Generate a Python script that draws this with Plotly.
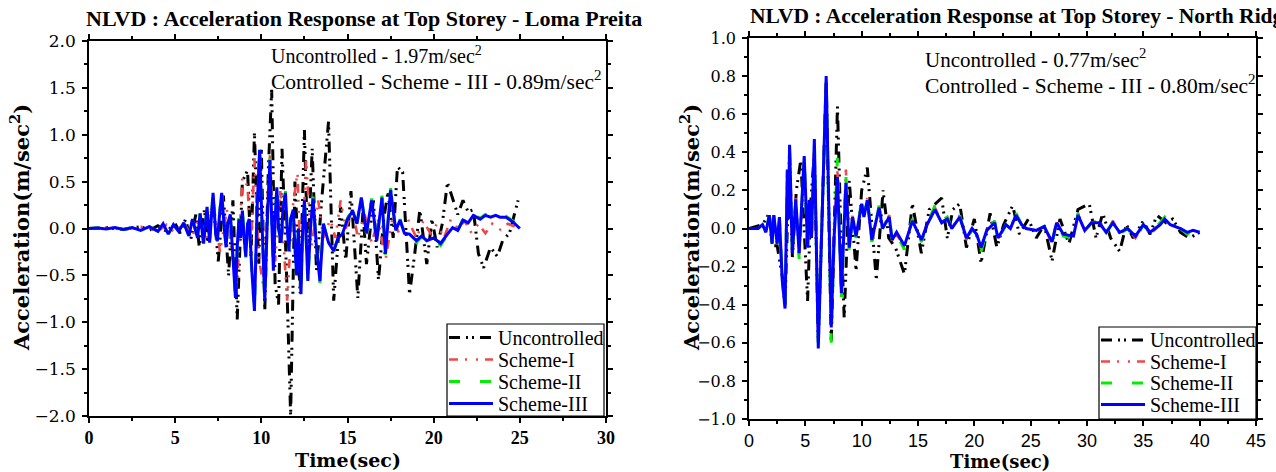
import plotly.graph_objects as go

# ---------------- Loma Preita (left) ----------------
lp_unc_t = [0, 1, 2, 3, 3.5, 4, 4.5, 5, 5.3, 5.6, 5.9, 6.2, 6.4, 6.7, 6.9, 7.2, 7.5, 7.8, 8.1, 8.35,
            8.6, 8.9, 9.2, 9.4, 9.6, 9.85, 10.0, 10.2, 10.4, 10.6, 10.8, 11.0, 11.2, 11.45, 11.7, 11.95, 12.25, 12.5, 12.7, 12.95,
            13.2, 13.5, 13.9, 14.2, 14.6, 14.9, 15.2, 15.6, 15.9, 16.1, 16.5, 16.8, 17.1, 17.35, 17.65, 17.9, 18.2, 18.6, 18.9, 19.2,
            19.6, 19.9, 20.2, 20.5, 20.8, 21.1, 21.4, 21.7, 22.0, 22.3, 22.6, 22.9, 23.3, 23.7, 24.0, 24.4, 24.9]
lp_unc_a = [0, 0.01, -0.01, 0.02, -0.02, 0.03, -0.03, 0.05, -0.05, 0.1, -0.12, 0.15, -0.2, 0.2, -0.15, 0.3, -0.35, 0.35, -0.5, 0.3,
            -0.97, 0.5, 0.62, -0.3, 1.02, -0.4, 0.85, -0.88, 0.6, 1.48, -0.6, -0.81, 0.85, -0.4, -1.99, 0.5, -0.69, 1.05, -0.3, 0.85,
            -0.45, 0.3, 1.14, -0.77, 0.23, -0.34, 0.4, -0.74, 0.2, -0.38, 0.3, -0.55, 0.1, 0.39, -0.1, 0.66, 0.6, -0.7, -0.27, 0.2,
            -0.38, 0.1, -0.2, 0.05, 0.49, 0.33, 0.15, 0.3, 0.18, 0.2, -0.27, -0.42, -0.2, -0.3, -0.13, -0.05, 0.3]

lp_s1_t = [0, 1, 2, 3, 4, 4.5, 5, 5.5, 6.0, 6.4, 6.8, 7.2, 7.6, 8.0, 8.3, 8.6, 8.9, 9.2, 9.4, 9.6,
           9.85, 10.1, 10.5, 10.8, 11.1, 11.5, 11.8, 12.1, 12.3, 12.6, 12.9, 13.3, 13.6, 14.0, 14.3, 14.6, 14.9, 15.3, 15.6, 16.0,
           16.4, 16.8, 17.2, 17.6, 18.0, 18.5, 19.0, 19.4, 19.8, 20.2, 20.6, 21.0, 21.4, 21.8, 22.2, 22.6, 23.0, 23.4, 23.8, 24.3, 25.0]
lp_s1_a = [0, 0.01, -0.01, 0.02, -0.03, 0.04, -0.05, 0.06, -0.08, 0.12, -0.14, 0.3, -0.25, 0.2, -0.3, -0.6, 0.55, 0.45, -0.2, 0.75,
           -0.3, -0.6, 0.78, -0.35, 0.4, -0.77, 0.2, 0.6, -0.6, 0.73, -0.2, 0.3, -0.1, 0.1, -0.1, 0.3, 0.0, 0.2, -0.1, 0.15,
           -0.15, 0.1, -0.34, 0.1, -0.05, 0.1, -0.1, 0.08, -0.05, 0.05, -0.1, 0.1, 0.0, 0.08, -0.05, 0.05, -0.05, 0.05, -0.02, 0.05, 0.0]

lp_s3_t = [0, 0.5, 1.0, 1.5, 2.0, 2.5, 3.0, 3.5, 4.0, 4.3,
           4.6, 4.9, 5.2, 5.5, 5.8, 6.0, 6.3, 6.45, 6.65, 6.85,
           7.0, 7.2, 7.35, 7.45, 7.6, 7.7, 7.85, 7.95, 8.05, 8.2,
           8.35, 8.5, 8.6, 8.7, 8.8, 8.9, 9.0, 9.1, 9.2, 9.3,
           9.45, 9.6, 9.75, 9.9, 10.05, 10.2, 10.35, 10.5, 10.6, 10.7,
           10.8, 10.9, 11.0, 11.15, 11.25, 11.4, 11.5, 11.6, 11.7, 11.85,
           11.95, 12.05, 12.15, 12.2, 12.3, 12.4, 12.5, 12.6, 12.7, 12.85,
           13.0, 13.2, 13.4, 13.6, 13.9, 14.2, 14.45, 14.7, 15.0, 15.3,
           15.55, 15.8, 16.1, 16.4, 16.7, 17.0, 17.2, 17.5, 17.8, 18.05,
           18.3, 18.6, 19.0, 19.3, 19.6, 20.0, 20.4, 20.8, 21.1, 21.4,
           21.7, 22.0, 22.3, 22.7, 23.0, 23.3, 23.6, 23.85, 24.2, 24.6,
           25.0]
lp_s3_a = [0, 0.005, -0.005, 0.01, -0.01, 0.01, -0.02, 0.02, -0.03, 0.05,
           -0.06, 0.04, -0.03, 0.06, -0.08, 0.1, -0.1, 0.16, -0.16, 0.23,
           -0.15, 0.38, -0.05, -0.13, 0.2, 0.38, 0.0, -0.2, 0.05, 0.15,
           -0.3, -0.74, -0.2, 0.1, -0.1, 0.19, -0.1, -0.3, 0.05, 0.1,
           -0.45, -0.88, 0.2, 0.84, 0.0, -0.77, 0.1, 0.73, 0.1, -0.45,
           0.1, 0.44, 0.0, -0.15, 0.2, 0.38, 0.0, -0.24, 0.1, 0.2,
           -0.2, -0.5, 0.0, -0.3, -0.7, 0.0, 0.3, -0.1, -0.56, 0.0,
           0.32, -0.2, -0.56, 0.05, -0.15, -0.24, -0.1, -0.06, 0.1, 0.19,
           0.05, 0.33, -0.05, 0.3, -0.13, 0.33, -0.27, 0.41, -0.02, 0.09,
           -0.05, -0.06, -0.13, -0.08, -0.13, -0.1, -0.16, -0.06, 0.01, -0.02,
           0.09, 0.06, 0.14, 0.1, 0.14, 0.12, 0.14, 0.12, 0.12, 0.07,
           0.0]
lp_s2_a = [0, 0.005, -0.005, 0.01, -0.01, 0.01, -0.02, 0.02, -0.03, 0.05,
           -0.06, 0.04, -0.03, 0.06, -0.08, 0.1, -0.1, 0.17, -0.17, 0.24,
           -0.16, 0.40, -0.05, -0.14, 0.21, 0.40, 0.0, -0.21, 0.05, 0.16,
           -0.31, -0.76, -0.21, 0.11, -0.1, 0.2, -0.1, -0.31, 0.05, 0.11,
           -0.46, -0.86, 0.21, 0.86, 0.0, -0.75, 0.1, 0.75, 0.1, -0.47,
           0.1, 0.46, 0.0, -0.16, 0.21, 0.4, 0.0, -0.25, 0.1, 0.21,
           -0.21, -0.52, 0.0, -0.31, -0.72, 0.0, 0.32, -0.1, -0.58, 0.0,
           0.34, -0.21, -0.58, 0.06, -0.16, -0.25, -0.11, -0.07, 0.11, 0.2,
           0.06, 0.35, -0.06, 0.32, -0.14, 0.35, -0.28, 0.43, -0.03, 0.1,
           -0.06, -0.07, -0.15, -0.09, -0.15, -0.11, -0.18, -0.07, 0.01, -0.02,
           0.1, 0.07, 0.15, 0.11, 0.15, 0.13, 0.15, 0.13, 0.13, 0.08,
           0.0]

# ---------------- North Ridge (right) ----------------
nr_unc_t = [0, 1.2, 1.8, 2.05, 2.5, 2.95, 3.2, 3.6, 3.85, 4.2, 4.6, 5.2, 5.5, 5.8, 6.15, 6.5, 6.85, 7.3, 7.85, 8.1,
            8.45, 8.9, 9.5, 10.0, 10.5, 11.3, 11.9, 12.4, 13.0, 13.8, 14.5, 15.3, 16.0, 17.1, 17.6, 18.1, 18.7, 19.3, 20.0, 20.6,
            21.4, 22.0, 22.6, 23.4, 24.0, 24.8, 25.5, 26.2, 26.9, 27.6, 28.4, 29.2, 30.2, 30.8, 31.4, 32.1, 32.9, 33.5, 34.1, 35.0,
            35.6, 36.2, 37.0, 37.6, 38.3, 39.1, 40.0]
nr_unc_a = [0, 0.02, 0.08, -0.09, -0.09, -0.25, -0.4, 0.4, -0.15, 0.2, 0.36, -0.38, 0.15, 0.4, -0.6, 0.15, 0.78, -0.6, 0.64, 0.1,
            -0.47, 0.25, -0.22, 0.2, 0.32, -0.27, 0.2, -0.05, -0.1, -0.24, 0.13, -0.13, 0.1, 0.16, -0.05, 0.1, 0.13, -0.1, 0.05, -0.18,
            0.08, -0.1, 0.02, 0.12, -0.03, 0.05, -0.05, 0.02, -0.17, 0.05, -0.08, 0.1, 0.13, -0.05, 0.08, -0.05, -0.12, 0.02, -0.05, 0.04,
            -0.03, 0.07, 0.03, 0.05, -0.02, -0.05, -0.02]

nr_t = [0, 0.8, 1.2, 1.5, 1.8, 2.05, 2.2, 2.5, 2.7, 2.95, 3.2, 3.4, 3.5, 3.6, 3.85, 4.15, 4.45, 4.9, 5.2, 5.35,
        5.55, 5.8, 6.15, 6.85, 7.3, 7.55, 7.85, 8.2, 8.6, 8.9, 9.2, 9.5, 10.0, 10.2, 10.5, 10.9, 11.55, 11.85, 12.45, 12.7,
        13.1, 13.8, 14.5, 15.3, 15.8, 16.5, 17.1, 17.6, 18.0, 18.7, 19.3, 19.8, 20.2, 20.6, 21.1, 21.8, 22.1, 22.8, 23.2, 23.7,
        24.2, 24.6, 25.5, 26.2, 26.9, 27.3, 27.9, 28.8, 29.2, 29.8, 30.4, 31.1, 31.7, 32.3, 32.9, 33.6, 34.3, 35.0, 35.6, 36.5,
        36.9, 37.4, 38.3, 38.9, 39.4, 40.0]
nr_s3_a = [0, 0.0, 0.02, -0.02, 0.07, -0.08, 0.07, -0.08, 0.06, -0.27, -0.42, 0.31, 0.05, 0.44, -0.13, 0.15, -0.13, 0.38, -0.1, 0.15,
           -0.05, 0.47, -0.63, 0.8, -0.52, -0.05, 0.27, -0.34, 0.24, -0.1, 0.06, -0.04, 0.13, 0.06, 0.15, -0.06, 0.11, 0.0, 0.06, -0.06,
           -0.02, -0.09, 0.04, -0.06, 0.02, 0.1, 0.03, 0.05, 0.0, 0.06, -0.05, 0.0, -0.03, -0.1, -0.01, 0.03, -0.05, 0.02, 0.0, 0.07,
           0.02, 0.0, -0.01, 0.01, -0.07, 0.03, -0.03, -0.04, 0.07, -0.01, 0.03, 0.03, -0.02, 0.03, -0.02, 0.0, -0.04, 0.02, -0.02, 0.02,
           0.05, 0.02, 0.0, -0.02, -0.01, -0.02]
nr_s2_a = [0, 0.0, 0.02, -0.02, 0.07, -0.08, 0.07, -0.08, 0.06, -0.27, -0.41, 0.3, 0.05, 0.43, -0.14, 0.15, -0.16, 0.37, -0.14, 0.15,
           -0.06, 0.45, -0.6, 0.78, -0.6, -0.06, 0.37, -0.38, 0.28, -0.12, 0.07, -0.05, 0.15, 0.07, 0.17, -0.07, 0.12, 0.0, 0.07, -0.07,
           -0.03, -0.11, 0.05, -0.07, 0.02, 0.12, 0.04, 0.06, 0.0, 0.07, -0.06, 0.0, -0.04, -0.12, -0.02, 0.04, -0.06, 0.02, 0.0, 0.08,
           0.02, 0.0, -0.01, 0.01, -0.08, 0.04, -0.04, -0.05, 0.08, -0.01, 0.03, 0.04, -0.03, 0.04, -0.03, 0.0, -0.06, 0.02, -0.03, 0.03,
           0.06, 0.02, 0.0, -0.03, -0.01, -0.02]
nr_s1_a = [0, 0.0, 0.02, -0.02, 0.07, -0.08, 0.07, -0.08, 0.06, -0.27, -0.41, 0.3, 0.05, 0.43, -0.14, 0.16, -0.14, 0.37, -0.12, 0.15,
           -0.06, 0.46, -0.58, 0.75, -0.5, -0.06, 0.3, -0.36, 0.31, -0.11, 0.07, -0.05, 0.14, 0.07, 0.16, -0.07, 0.12, 0.0, 0.07, -0.07,
           -0.03, -0.1, 0.05, -0.07, 0.02, 0.11, 0.03, 0.06, 0.0, 0.07, -0.06, 0.0, -0.03, -0.11, -0.01, 0.04, -0.06, 0.02, 0.0, 0.08,
           0.02, 0.0, -0.01, 0.01, -0.08, 0.04, -0.04, -0.04, 0.08, -0.01, 0.03, 0.04, -0.02, 0.04, -0.03, 0.0, -0.05, 0.02, -0.03, 0.02,
           0.05, 0.02, 0.0, -0.03, -0.01, -0.02]

series_names = ["Uncontrolled", "Scheme-I", "Scheme-II", "Scheme-III"]

SERIF = "Liberation Serif"
SANS = "Liberation Sans"
WIDE_SERIF = "DejaVu Serif"
W, H = 1276, 472

styles = [
    dict(color="#000000", width=3, dash="11px,6px,2px,4px,2px,6px"),
    dict(color="#f04848", width=2.6, dash="9px,7px,2px,9px,2px,7px"),
    dict(color="#00ee00", width=3, dash="11px,20px"),
    dict(color="#0000ff", width=3, dash="solid"),
]

fig = go.Figure()

left_data = [(lp_unc_t, lp_unc_a), (lp_s1_t, lp_s1_a), (lp_s3_t, lp_s2_a), (lp_s3_t, lp_s3_a)]
right_data = [(nr_unc_t, nr_unc_a), (nr_t, nr_s1_a), (nr_t, nr_s2_a), (nr_t, nr_s3_a)]

for name, (t, a), st in zip(series_names, left_data, styles):
    fig.add_trace(go.Scatter(x=t, y=a, mode="lines", name=name, line=st,
                             xaxis="x", yaxis="y", showlegend=False))
for name, (t, a), st in zip(series_names, right_data, styles):
    fig.add_trace(go.Scatter(x=t, y=a, mode="lines", name=name, line=st,
                             xaxis="x2", yaxis="y2", showlegend=False))

def px_x(p):
    return p / W

def px_y(p):
    return 1 - p / H

axis_common = dict(showline=True, linecolor="black", linewidth=1.5, mirror="allticks",
                   ticks="outside", ticklen=5, tickwidth=1.5, tickcolor="black",
                   showgrid=False, zeroline=False, fixedrange=True, automargin=False)

fig.update_layout(
    width=W, height=H,
    margin=dict(l=0, r=0, t=0, b=0, autoexpand=False),
    paper_bgcolor="white", plot_bgcolor="white",
    showlegend=False,
    xaxis=dict(axis_common, domain=[px_x(89), px_x(606)], range=[0, 30], dtick=5, tick0=0,
               anchor="y", ticklabelstandoff=0,
               tickfont=dict(family=SERIF, size=18, color="black", weight="bold"),
               minor=dict(ticks="outside", ticklen=3, tickwidth=1.5, dtick=2.5, tickcolor="black")),
    yaxis=dict(axis_common, domain=[px_y(416), px_y(41)], range=[-2, 2], dtick=0.5, tick0=0,
               anchor="x", tickformat=".1f", ticklabelstandoff=3,
               tickfont=dict(family=WIDE_SERIF, size=17, color="black"),
               minor=dict(ticks="outside", ticklen=3, tickwidth=1.5, dtick=0.25, tickcolor="black")),
    xaxis2=dict(axis_common, domain=[px_x(749), px_x(1256)], range=[0, 45], dtick=5, tick0=0,
                anchor="y2", ticklabelstandoff=0,
                tickfont=dict(family=SANS, size=18, color="black"),
                minor=dict(ticks="outside", ticklen=3, tickwidth=1.5, dtick=2.5, tickcolor="black")),
    yaxis2=dict(axis_common, domain=[px_y(419), px_y(38)], range=[-1, 1], dtick=0.2, tick0=0,
                anchor="x2", tickformat=".1f", ticklabelstandoff=3,
                tickfont=dict(family=WIDE_SERIF, size=16, color="black"),
                minor=dict(ticks="outside", ticklen=3, tickwidth=1.5, dtick=0.1, tickcolor="black")),
)

def ann(text, x, y, size=17, bold=False, xanchor="left", angle=0, family=SERIF):
    fig.add_annotation(text=text, x=px_x(x), y=px_y(y), xref="paper", yref="paper",
                       xanchor=xanchor, yanchor="middle", showarrow=False, textangle=angle,
                       font=dict(family=family, size=size, color="black",
                                 weight="bold" if bold else "normal"))

ann("NLVD : Acceleration Response at Top Storey - Loma Preita", 84, 18, size=22, bold=True)
ann("NLVD : Acceleration Response at Top Storey - North Ridge", 748, 16, size=21.5, bold=True)
ann("Uncontrolled - 1.97m/sec<sup>2</sup>", 269, 55, size=20)
ann("Controlled - Scheme - III - 0.89m/sec<sup>2</sup>", 269, 80, size=21.5)
ann("Uncontrolled - 0.77m/sec<sup>2</sup>", 923, 58, size=21)
ann("Controlled - Scheme - III - 0.80m/sec<sup>2</sup>", 923, 85, size=21.5)
ann("Acceleration(m/sec<sup>2</sup>)", 20, 228, size=21, bold=True, xanchor="center", angle=-90, family=WIDE_SERIF)
ann("Acceleration(m/sec<sup>2</sup>)", 690, 228, size=21, bold=True, xanchor="center", angle=-90, family=WIDE_SERIF)
ann("Time(sec)", 348, 460, size=19, bold=True, xanchor="center", family=WIDE_SERIF)
ann("Time(sec)", 1000, 461, size=18, bold=True, xanchor="center", family=WIDE_SERIF)

# ---- legends (boxed, lower right of each panel) ----
def legend_box(x0, y0, x1, y1, rows):
    fig.add_shape(type="rect", xref="paper", yref="paper",
                  x0=px_x(x0), x1=px_x(x1), y0=px_y(y1), y1=px_y(y0),
                  line=dict(color="black", width=1.2), fillcolor="white", layer="above")
    for name, st, ry in zip(series_names, styles, rows):
        fig.add_shape(type="line", xref="paper", yref="paper",
                      x0=px_x(x0 + 2), x1=px_x(x0 + 46), y0=px_y(ry), y1=px_y(ry),
                      line=dict(color=st["color"], width=st["width"], dash=st["dash"]), layer="above")
        ann(name, x0 + 49, ry, size=20)

legend_box(447, 324, 604, 416, [337.5, 359.5, 381.5, 403.5])
legend_box(1099, 327, 1256, 419, [340, 361.5, 383, 404.5])

fig.write_html("out.html")
